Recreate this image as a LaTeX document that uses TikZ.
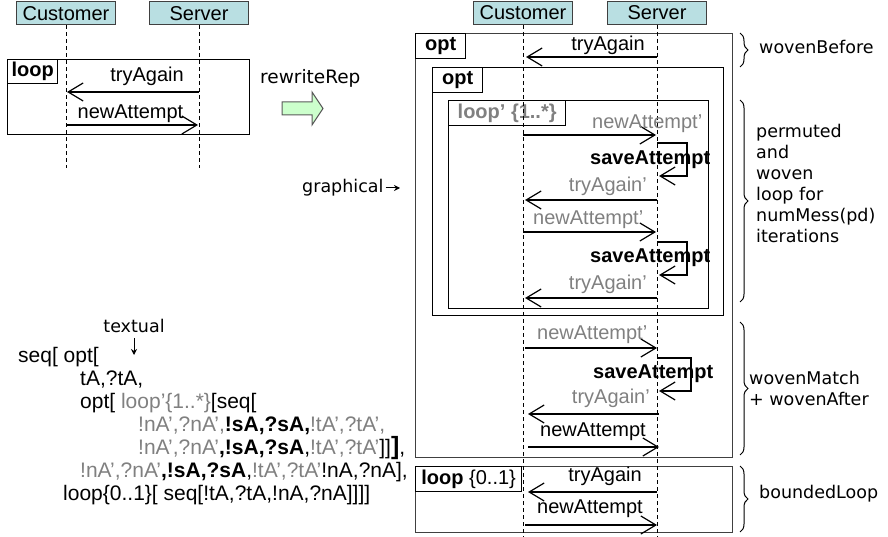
\documentclass[tikz,border=0pt]{standalone}
\usepackage{fontspec}
\setmainfont{Liberation Sans}
\newfontfamily\handfont{DejaVu Sans}
\usetikzlibrary{arrows.meta,decorations.pathreplacing}

\definecolor{actorfill}{RGB}{185,223,226}
\definecolor{msggray}{RGB}{128,128,128}
\definecolor{arrowgreen}{RGB}{204,255,204}

\tikzset{
  actor/.style={draw=black!75, fill=actorfill, line width=1pt, minimum width=99pt,
    minimum height=23pt, inner sep=0pt, font=\fontsize{20}{24}\selectfont},
  lifeline/.style={draw=black, line width=0.9pt, dash pattern=on 4pt off 3pt},
  frame/.style={draw=black, line width=1.3pt, inner sep=0pt, anchor=north west},
  outerframe/.style={frame, draw=black!75},
  tagbox/.style={draw=black, line width=1.3pt, anchor=north west, inner sep=0pt,
    minimum height=25pt, font=\fontsize{20}{24}\selectfont\bfseries},
  msg/.style={line width=1.2pt, -{Straight Barb[length=15pt,width=18pt,line width=1.2pt]}},
  lbl/.style={inner sep=0pt, font=\fontsize{20}{24}\selectfont},
  glbl/.style={lbl, text=msggray},
  blbl/.style={inner sep=0pt, font=\fontsize{20}{24}\selectfont\bfseries, anchor=base west},
  hand/.style={inner sep=0pt, font=\fontsize{17.5}{21}\handfont},
  code/.style={inner sep=0pt, anchor=base west, font=\fontsize{21}{24}\selectfont},
  bracelbl/.style={decorate, decoration={brace, amplitude=8pt}, line width=1pt},
  pointer/.style={line width=1pt, -{Stealth[length=6pt,width=6pt]}},
}

\begin{document}
\begin{tikzpicture}[x=1pt,y=-1pt]
\useasboundingbox (0,0) rectangle (888,537);

% ---------- original interaction ----------
\node[actor] (lcust) at (66,13.5) {Customer};
\node[actor] (lserv) at (199,13.5) {Server};
\coordinate (lcustEnd) at (66,168);
\coordinate (lservEnd) at (199,168);
\draw[lifeline] (lcust.south) -- (lcustEnd);
\draw[lifeline] (lserv.south) -- (lservEnd);

\node[frame, minimum width=242pt, minimum height=75pt] (lloop) at (7,59) {};
\node[tagbox, minimum width=50pt, minimum height=24pt] (lloopTag) at (lloop.north west) {loop};

\coordinate (l1a) at (199,92);  \coordinate (l1b) at (67,92);
\draw[msg] (l1a) -- (l1b);
\node[lbl, anchor=south east] (l1lbl) at (184,86) {tryAgain};
\coordinate (l2a) at (66,125);  \coordinate (l2b) at (198,125);
\draw[msg] (l2a) -- (l2b);
\node[lbl, anchor=south] (l2lbl) at (130.5,123) {newAttempt};

% ---------- rewrite step ----------
\node[hand, anchor=base west, font=\fontsize{18.5}{21}\handfont] (rewrite) at (260,84) {rewriteRep};
\draw[draw=black!65, line width=1pt, fill=arrowgreen]
  (282,102) -- (312,102) -- (312,92) -- (323,108.5) -- (312,125) -- (312,115) -- (282,115) -- cycle;

\node[hand, anchor=base west] (graphical) at (302,193) {graphical};
\coordinate (gTip) at (400,188);
\draw[pointer] (graphical.east |- gTip) ++(2,0) -- (gTip);

\node[hand] (textual) at (134,326) {textual};
\coordinate (tTip) at (134,355);
\draw[pointer] (textual.south -| tTip) ++(0,5) -- (tTip);

% ---------- textual form ----------
\node[code] (c1) at (18,362) {seq[ opt[};
\node[code] (c2) at (80,385) {tA,?tA,};
\node[code] (c3) at (80,408) {opt[ \textcolor{msggray}{loop’\{1..*\}}[seq[};
\node[code] (c4) at (138,431) {\textcolor{msggray}{!nA’,?nA’,}\textbf{!sA,?sA,}\textcolor{msggray}{!tA’,?tA’,}};
\node[code] (c5) at (138,454) {\textcolor{msggray}{!nA’,?nA’}\textbf{,!sA,?sA},\textcolor{msggray}{!tA’,?tA’}]]{\fontsize{25}{24}\selectfont\textbf{]}},};
\node[code] (c6) at (80,477) {\textcolor{msggray}{!nA’,?nA’}\textbf{,!sA,?sA},\textcolor{msggray}{!tA’,?tA’}!nA,?nA],};
\node[code] (c7) at (63,500) {loop\{0..1\}[ seq[!tA,?tA,!nA,?nA]]]]};

% ---------- rewritten interaction ----------
\node[actor] (rcust) at (523,13) {Customer};
\node[actor] (rserv) at (657,13) {Server};
\coordinate (rcustEnd) at (523,537);
\coordinate (rservEnd) at (657,537);

\node[outerframe, minimum width=317pt, minimum height=424pt] (optA) at (415,33) {};
\node[tagbox, minimum width=50pt] (optATag) at (optA.north west) {opt};
\node[frame, minimum width=291pt, minimum height=248pt] (optB) at (432,67) {};
\node[tagbox, minimum width=50pt] (optBTag) at (optB.north west) {opt};
\node[frame, minimum width=260pt, minimum height=208pt] (loopP) at (448,100) {};
\node[tagbox, minimum width=117pt, text=msggray] (loopPTag) at (loopP.north west) {loop’ \{1..*\}};
\node[outerframe, minimum width=317pt, minimum height=66pt] (bloop) at (415,466) {};
\node[tagbox, minimum width=106pt] (bloopTag) at (bloop.north west) {loop \mdseries\{0..1\}};

\draw[lifeline] (rcust.south) -- (rcustEnd);
\draw[lifeline] (rserv.south) -- (rservEnd);

% woven before
\coordinate (r1a) at (657,57);  \coordinate (r1b) at (526,57);
\draw[msg] (r1a) -- (r1b);
\node[lbl, anchor=south east] (r1lbl) at (645,55) {tryAgain};

% permuted loop body, first pass
\coordinate (r2a) at (523,135); \coordinate (r2b) at (656,135);
\draw[msg] (r2a) -- (r2b);
\node[glbl, anchor=south west] (r2lbl) at (592,133) {newAttempt’};
\coordinate (s1a) at (657,143); \coordinate (s1b) at (659,176);
\draw[msg] (s1a) -- ++(30,0) -- ++(0,33) -- (s1b);
\node[blbl] (s1lbl) at (590,165) {saveAttempt};
\coordinate (r3a) at (657,200); \coordinate (r3b) at (525,200);
\draw[msg] (r3a) -- (r3b);
\node[glbl, anchor=south east] (r3lbl) at (647,196) {tryAgain’};

% permuted loop body, second pass
\coordinate (r4a) at (523,232); \coordinate (r4b) at (656,232);
\draw[msg] (r4a) -- (r4b);
\node[glbl, anchor=south west] (r4lbl) at (533,229) {newAttempt’};
\coordinate (s2a) at (657,242); \coordinate (s2b) at (659,275);
\draw[msg] (s2a) -- ++(30,0) -- ++(0,33) -- (s2b);
\node[blbl] (s2lbl) at (590,262) {saveAttempt};
\coordinate (r5a) at (657,298); \coordinate (r5b) at (525,298);
\draw[msg] (r5a) -- (r5b);
\node[glbl, anchor=south east] (r5lbl) at (647,294) {tryAgain’};

% woven match and after
\coordinate (r6a) at (525,348); \coordinate (r6b) at (657,348);
\draw[msg] (r6a) -- (r6b);
\node[glbl, anchor=south west] (r6lbl) at (537,344) {newAttempt’};
\coordinate (s3a) at (657,358); \coordinate (s3b) at (659,391);
\draw[msg] (s3a) -- ++(34,0) -- ++(0,33) -- (s3b);
\node[blbl] (s3lbl) at (593,378) {saveAttempt};
\coordinate (r7a) at (659,414); \coordinate (r7b) at (528,414);
\draw[msg] (r7a) -- (r7b);
\node[glbl, anchor=south east] (r7lbl) at (650,408) {tryAgain’};
\coordinate (r8a) at (528,447); \coordinate (r8b) at (659,447);
\draw[msg] (r8a) -- (r8b);
\node[lbl, anchor=south west] (r8lbl) at (540,441) {newAttempt};

% bounded loop
\coordinate (r9a) at (657,492); \coordinate (r9b) at (528,492);
\draw[msg] (r9a) -- (r9b);
\node[lbl, anchor=south east] (r9lbl) at (642,486) {tryAgain};
\coordinate (r10a) at (525,525); \coordinate (r10b) at (657,525);
\draw[msg] (r10a) -- (r10b);
\node[lbl, anchor=south west] (r10lbl) at (537,518) {newAttempt};

% ---------- braces ----------
\coordinate (b1t) at (740,33);  \coordinate (b1b) at (740,67);
\draw[bracelbl] (b1t) -- (b1b);
\node[hand, anchor=west] (b1lbl) at (759,47) {wovenBefore};
\coordinate (b2t) at (740,100); \coordinate (b2b) at (740,302);
\draw[bracelbl] (b2t) -- (b2b);
\node[hand, anchor=west, align=left] (b2lbl) at (756,183) {permuted\\and\\woven\\loop for\\numMess(pd)\\iterations};
\coordinate (b3t) at (740,322); \coordinate (b3b) at (740,455);
\draw[bracelbl] (b3t) -- (b3b);
\node[hand, anchor=west, align=left] (b3lbl) at (749,388) {wovenMatch\\+ wovenAfter};
\coordinate (b4t) at (740,466); \coordinate (b4b) at (740,532);
\draw[bracelbl] (b4t) -- (b4b);
\node[hand, anchor=west] (b4lbl) at (759,494) {boundedLoop};

\end{tikzpicture}
\end{document}
